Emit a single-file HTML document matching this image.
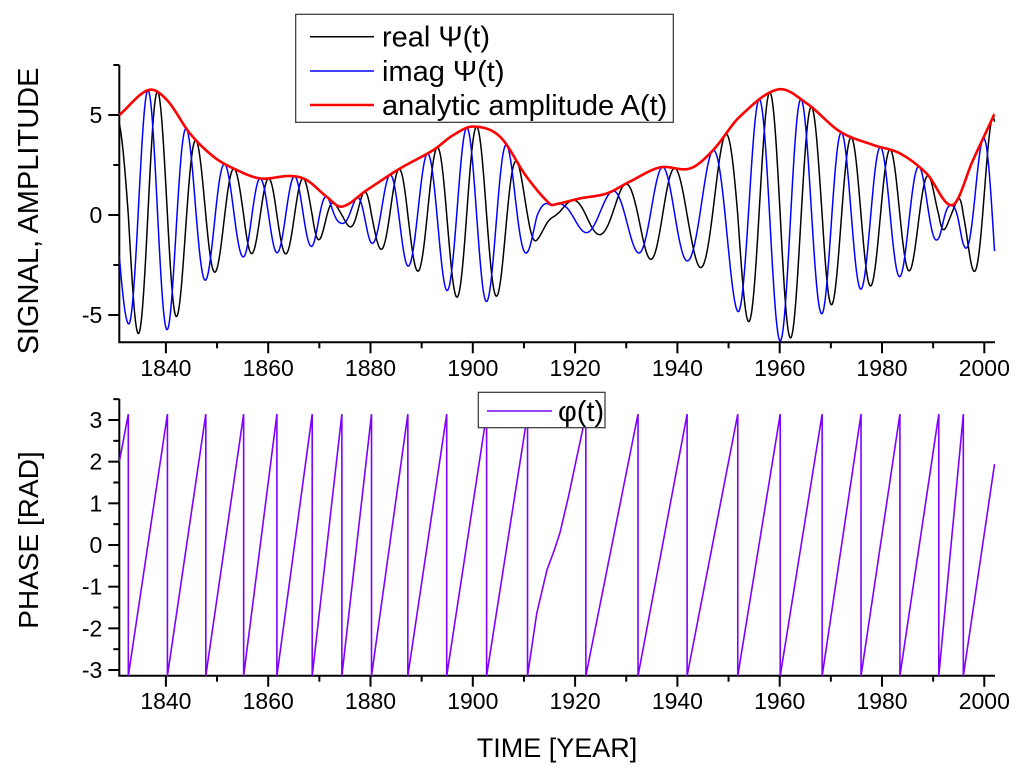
<!DOCTYPE html>
<html><head><meta charset="utf-8"><style>
html,body{margin:0;padding:0;background:#fff;}
svg{display:block;font-family:"Liberation Sans",Arial,sans-serif;}
</style></head><body>
<svg id="chart" width="1024" height="780" viewBox="0 0 1024 780">
  <defs>
    <clipPath id="clipTop"><rect x="119" y="40" width="877" height="303"/></clipPath>
    <clipPath id="clipBot"><rect x="119" y="395" width="877" height="282"/></clipPath>
  </defs>
  <g id="topPanel"></g>
  <g id="botPanel"></g>
  <text x="557" y="757" font-size="27" text-anchor="middle">TIME [YEAR]</text>
  <text transform="translate(38,211) rotate(-90)" font-size="29" text-anchor="middle">SIGNAL, AMPLITUDE</text>
  <text transform="translate(38,540) rotate(-90)" font-size="28" text-anchor="middle">PHASE [RAD]</text>
</svg>
<script>
// ---- data ----
const ampYears = [1830.9,1836.6,1840.2,1844.7,1849.3,1853.2,1858.4,1864.3,1867.5,1871.4,1874.4,1879.3,1885.8,1892.3,1896.2,1900.1,1905.3,1910.5,1915.1,1916.4,1921.0,1926.2,1930.7,1936.6,1942.5,1947.0,1952.2,1959.7,1965.3,1971.8,1978.3,1983.5,1988.7,1993.8,1997.8,2001.9];
const ampValues = [5.0,6.25,5.75,4.08,2.92,2.33,1.83,1.95,1.75,0.92,0.42,1.25,2.33,3.25,4.0,4.42,3.92,1.92,0.55,0.55,0.83,1.08,1.67,2.38,2.33,3.25,4.92,6.28,5.58,4.17,3.5,3.08,2.08,0.5,2.75,5.0];
const phaseJumpYears = [1832.65,1840.3,1847.8,1855.2,1861.7,1868.6,1874.4,1880.2,1887.3,1894.9,1902.7,1910.7,1922.1,1932.3,1941.9,1951.8,1960.1,1968.3,1975.9,1983.5,1991.1,1995.9];
const phaseStartYear = 1830.9, phaseStartValue = 2.0;
const phaseEndYear = 2002.0, phaseEndValue = 1.94;
const slowKnotYears = [1912.5,1914.5,1916.0,1917.05,1918.7,1921.6];
const slowKnotPhases = [-1.64,-0.6,-0.1,0.3,1.16,2.84];
const xTickYears = [1840,1860,1880,1900,1920,1940,1960,1980,2000];
const topTickValues = [-5,0,5];
const botTickValues = [-3,-2,-1,0,1,2,3];

// ---- scales ----
const X0=119.3, X1=995;
const xs = t => 984.3 + (t-2000)*5.115;
const ysTop = v => 215 - v*20;
const ysBot = v => 545 - v*41.67;
const NS="http://www.w3.org/2000/svg";
function mk(tag, attrs, parent){const e=document.createElementNS(NS,tag);for(const k in attrs)e.setAttribute(k,attrs[k]);parent.appendChild(e);return e;}

function amp(t){
  const n=ampYears.length;
  if(t<=ampYears[0])return ampValues[0];
  if(t>=ampYears[n-1])return ampValues[n-1];
  let i=0;while(ampYears[i+1]<t)i++;
  const x0=ampYears[Math.max(i-1,0)],x1=ampYears[i],x2=ampYears[i+1],x3=ampYears[Math.min(i+2,n-1)];
  const y0=ampValues[Math.max(i-1,0)],y1=ampValues[i],y2=ampValues[i+1],y3=ampValues[Math.min(i+2,n-1)];
  const h=x2-x1, s=(t-x1)/h;
  const m1=(y2-y0)/(x2-x0||1)*h, m2=(y3-y1)/(x3-x1||1)*h;
  const s2=s*s,s3=s2*s;
  return (2*s3-3*s2+1)*y1+(s3-2*s2+s)*m1+(-2*s3+3*s2)*y2+(s3-s2)*m2;
}
const knots=[[phaseStartYear,phaseStartValue]];
phaseJumpYears.forEach((j,k)=>knots.push([j,Math.PI+2*Math.PI*k]));
slowKnotYears.forEach((y,i)=>{const c=phaseJumpYears.filter(j=>j<y).length;knots.push([y,slowKnotPhases[i]+2*Math.PI*c]);});
knots.push([phaseEndYear,phaseEndValue+2*Math.PI*phaseJumpYears.length]);
knots.sort((a,b)=>a[0]-b[0]);
function phase(t){
  if(t<=knots[0][0])return knots[0][1];
  for(let i=0;i<knots.length-1;i++){if(t<=knots[i+1][0]){const a=knots[i],b=knots[i+1];return a[1]+(b[1]-a[1])*(t-a[0])/(b[0]-a[0]);}}
  return knots[knots.length-1][1];
}

function axes(g, yTop, yBot, ys, majors, minors, labelY){
  const ya=mk('line',{x1:X0,y1:yTop,x2:X0,y2:yBot,stroke:'#000','stroke-width':2},g);
  
  const xa=mk('line',{x1:X0-1,y1:yBot,x2:X1,y2:yBot,stroke:'#000','stroke-width':2},g);
  
  majors.forEach(v=>{const y=ys(v);mk('line',{x1:X0-11,y1:y,x2:X0,y2:y,stroke:'#000','stroke-width':2},g);
    const t=mk('text',{x:X0-17,y:y+8,'font-size':23,'text-anchor':'end'},g);t.textContent=v;
    
    });
  minors.forEach(v=>{const y=ys(v);mk('line',{x1:X0-6,y1:y,x2:X0,y2:y,stroke:'#000','stroke-width':2},g);});
  for(let yr=1840;yr<=2000;yr+=10){const x=xs(yr);const maj=yr%20===0;
    mk('line',{x1:x,y1:yBot,x2:x,y2:yBot+(maj?11:6),stroke:'#000','stroke-width':2},g);}
  xTickYears.forEach(yr=>{const t=mk('text',{x:xs(yr),y:labelY,'font-size':23,'text-anchor':'middle'},g);t.textContent=yr;
    
    });
}

// ---- top panel ----
const topG=document.getElementById('topPanel');
axes(topG,65,342.3,ysTop,topTickValues,[-2.5,2.5,7.5],376);
let pr=[],pi=[],pa=[];
for(let t=1830.9;t<=2002.05;t+=0.04){const A=amp(t),p=phase(t);const x=xs(t).toFixed(2);
  pr.push(x+','+ysTop(A*Math.sin(p)).toFixed(2));pi.push(x+','+ysTop(A*Math.cos(p)).toFixed(2));pa.push(x+','+ysTop(A).toFixed(2));}
const gT=mk('g',{'clip-path':'url(#clipTop)'},topG);
const lr=mk('polyline',{points:pr.join(' '),fill:'none',stroke:'#000','stroke-width':1.5},gT);


const li=mk('polyline',{points:pi.join(' '),fill:'none',stroke:'#0000ff','stroke-width':1.5},gT);


const la=mk('polyline',{points:pa.join(' '),fill:'none',stroke:'#ff0000','stroke-width':2.6},gT);


const lg=mk('g',{},topG);


mk('rect',{x:295.7,y:14.3,width:377.6,height:108,fill:'#fff',stroke:'#333','stroke-width':1.2},lg);
[['real Ψ(t)','#000',36.7,1.5],['imag Ψ(t)','#0000ff',71,1.5],['analytic amplitude A(t)','#ff0000',105,2.6]].forEach(e=>{
  mk('line',{x1:310,y1:e[2],x2:374,y2:e[2],stroke:e[1],'stroke-width':e[3]},lg);
  const t=mk('text',{x:382,y:e[2]+10,'font-size':29},lg);t.textContent=e[0];
  
  
});

// ---- bottom panel ----
const botG=document.getElementById('botPanel');
axes(botG,399,675.7,ysBot,botTickValues,[-2.5,-1.5,-0.5,0.5,1.5,2.5,3.5],709);
let pp=[];
const bounds=[phaseStartYear,...phaseJumpYears,phaseEndYear];
for(let s=0;s<bounds.length-1;s++){
  const a=bounds[s],b=bounds[s+1];
  const inner=knots.filter(k=>k[0]>=a&&k[0]<=b).map(k=>k[0]);
  const ts=[...new Set([a,...inner,b])].sort((u,v)=>u-v);
  ts.forEach(t=>{
    const v=(t===a&&s>0)?-Math.PI:phase(t)-2*Math.PI*s;
    pp.push(xs(t).toFixed(2)+','+ysBot(v).toFixed(2));});
}
const gB=mk('g',{'clip-path':'url(#clipBot)'},botG);
const lp=mk('polyline',{points:pp.join(' '),fill:'none',stroke:'#8000ff','stroke-width':1.6},gB);


const lg2=mk('g',{},botG);


mk('rect',{x:478.3,y:392.3,width:126.7,height:35.4,fill:'#fff',stroke:'#333','stroke-width':1.2},lg2);
mk('line',{x1:487,y1:411,x2:552,y2:411,stroke:'#8000ff','stroke-width':1.6},lg2);
const tp=mk('text',{x:558,y:421,'font-size':29},lg2);tp.textContent='φ(t)';


</script>
</body></html>
